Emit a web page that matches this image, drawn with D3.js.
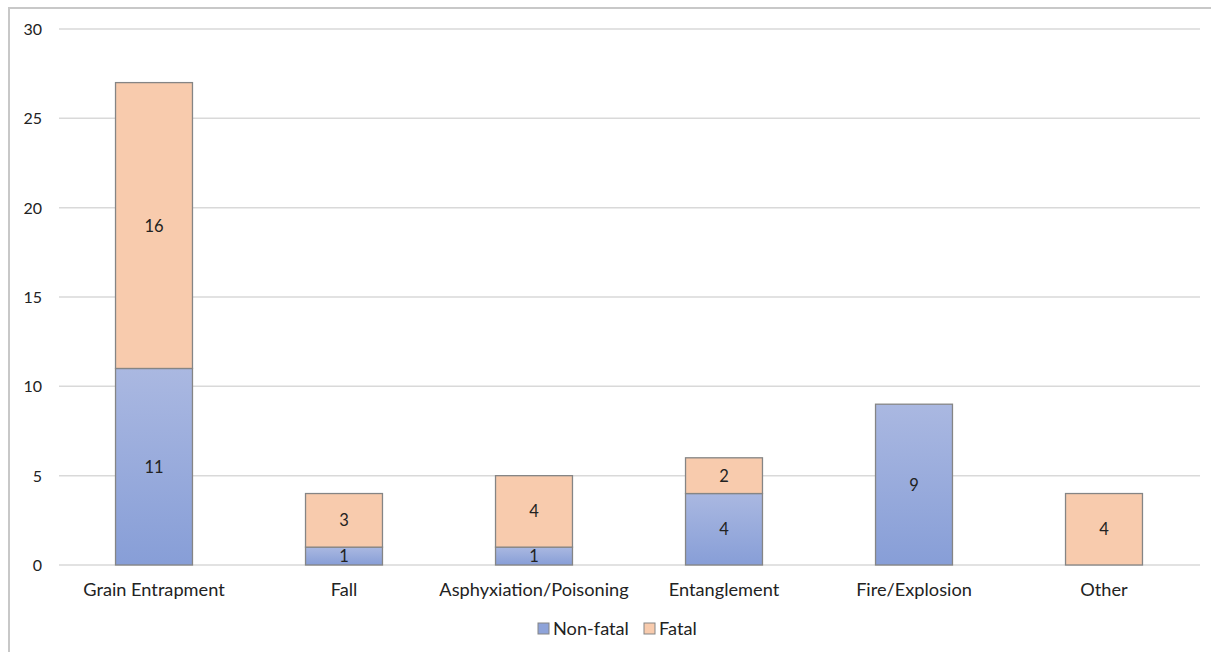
<!DOCTYPE html>
<html><head><meta charset="utf-8">
<script src="https://cdn.jsdelivr.net/npm/d3@7"></script>
<style>body{margin:0;background:#fff}svg{display:block}text{font-family:Lato,"Open Sans",sans-serif;fill:#222}</style>
</head><body>
<svg id="c" width="1211" height="652"></svg>
<script>
const categories = ["Grain Entrapment","Fall","Asphyxiation/Poisoning","Entanglement","Fire/Explosion","Other"];
const nonFatal = [11,1,1,4,9,0];
const fatal = [16,3,4,2,0,4];
const yTicks = [0,5,10,15,20,25,30];
const seriesNames = ["Non-fatal","Fatal"];

const svg = d3.select("#c");
// frame
svg.append("rect").attr("x",9).attr("y",8).attr("width",1220).attr("height",660)
  .attr("fill","none").attr("stroke","#c8c8c8").attr("stroke-width",2);

const defs = svg.append("defs");
const g1 = defs.append("linearGradient").attr("id","gb").attr("x1",0).attr("y1",0).attr("x2",0).attr("y2",1);
g1.append("stop").attr("offset","0%").attr("stop-color","#aab8e1");
g1.append("stop").attr("offset","100%").attr("stop-color","#879ed7");

const x = d3.scaleBand().domain(categories).range([59,1199]).paddingInner(0.595).paddingOuter(0.2975);
const y = d3.scaleLinear().domain([0,30]).range([565,29]);

// grid
svg.append("g").selectAll("line").data(yTicks).join("line")
  .attr("x1",59).attr("x2",1200).attr("y1",d=>y(d)).attr("y2",d=>y(d))
  .attr("stroke","#d9d9d9").attr("stroke-width",1.5);

// y labels
svg.append("g").selectAll("text").data(yTicks).join("text")
  .attr("x",42).attr("y",d=>y(d)+6).attr("text-anchor","end")
  .attr("font-size",16).text(d=>d);

const stackData = categories.map((c,i)=>({c, nf:nonFatal[i], f:fatal[i]}));
const stack = d3.stack().keys(["nf","f"])(stackData);
const fills = ["url(#gb)","#f8cbad"];

stack.forEach((layer,li)=>{
  const gL = svg.append("g");
  layer.forEach(d=>{
    const v = d[1]-d[0];
    if(v<=0) return;
    gL.append("rect").attr("x",x(d.data.c)).attr("width",x.bandwidth())
      .attr("y",y(d[1])).attr("height",y(d[0])-y(d[1]))
      .attr("fill",fills[li]).attr("stroke","#858585").attr("stroke-width",1.3);
    gL.append("text").attr("x",x(d.data.c)+x.bandwidth()/2)
      .attr("y",(y(d[0])+y(d[1]))/2+6).attr("text-anchor","middle")
      .attr("font-size",16.5).text(v);
  });
});

// x labels
svg.append("g").selectAll("text").data(categories).join("text")
  .attr("x",d=>x(d)+x.bandwidth()/2).attr("y",596).attr("text-anchor","middle")
  .attr("font-size",18.2).text(d=>d);

// legend
const leg = [{n:seriesNames[0],fill:"#8ea3d9",x:538},{n:seriesNames[1],fill:"#f8cbad",x:644}];
const lg = svg.append("g");
leg.forEach(l=>{
  lg.append("rect").attr("x",l.x).attr("y",623).attr("width",11).attr("height",11)
    .attr("fill",l.fill).attr("stroke","#858585").attr("stroke-width",1);
  lg.append("text").attr("x",l.x+15).attr("y",635).attr("font-size",18.2).text(l.n);
});
</script>
</body></html>
